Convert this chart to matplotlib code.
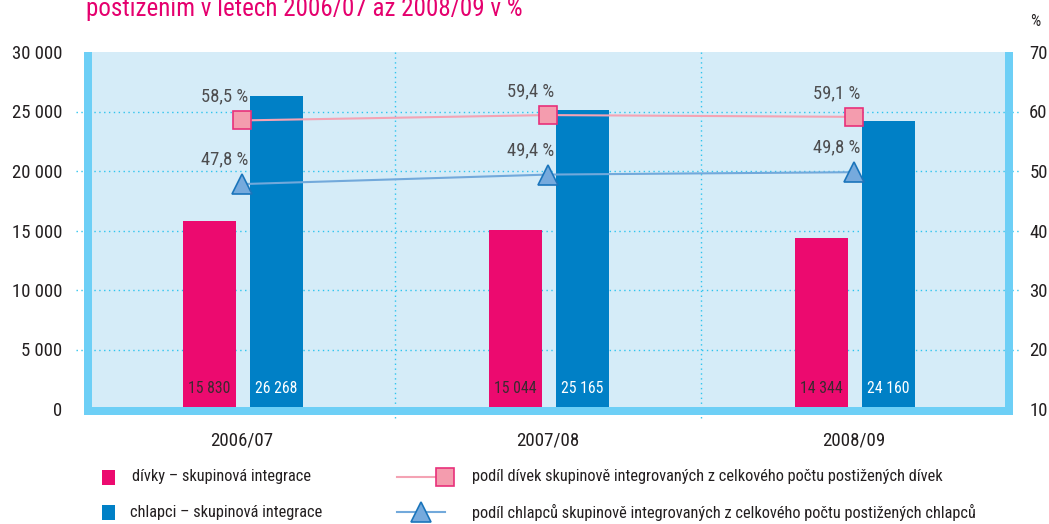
import matplotlib
matplotlib.use("Agg")
import matplotlib.pyplot as plt
import numpy as np
from matplotlib import font_manager
from matplotlib.patches import Rectangle
from matplotlib.lines import Line2D

# data
years = ["2006/07", "2007/08", "2008/09"]
girls = [15830, 15044, 14344]
boys = [26268, 25165, 24160]
girls_pct = [58.5, 59.4, 59.1]
boys_pct = [47.8, 49.4, 49.8]

left_ticks = [0, 5000, 10000, 15000, 20000, 25000, 30000]
right_ticks = [10, 20, 30, 40, 50, 60, 70]

# prefer a narrow font, the original uses a condensed one
names = {f.name for f in font_manager.fontManager.ttflist}
fam = ["DejaVu Sans"]
for cand in ["Liberation Sans Narrow", "Roboto Condensed", "Roboto"]:
    if cand in names:
        fam = [cand, "DejaVu Sans"]
        break
plt.rcParams["font.family"] = fam

pink = "#EC0A6F"
blue = "#0080C6"
frame = "#6DCFF6"
grid = "#2EC4EE"
dark = "#231F20"
W, H = 1049, 524


def fx(px):
    return px / W


def fy(py):
    return 1 - py / H


def fmt(v):
    return "{:,}".format(v).replace(",", " ")


fig = plt.figure(figsize=(10.49, 5.24), dpi=100)
renderer = fig.canvas.get_renderer()


def size_for(text, width_px, cap=14):
    # font size that makes text about width_px wide
    t = fig.text(0, 0, text, fontsize=10)
    w = t.get_window_extent(renderer).width
    t.remove()
    return min(cap, 10 * width_px / w)


ax = fig.add_axes([fx(89), fy(409), fx(1007) - fx(89), fy(52) - fy(409)])
ax.set_facecolor("#D5ECF8")
for s in ax.spines.values():
    s.set_visible(False)

x = np.arange(len(years))
w = 0.173
ax.bar(x - 0.106, girls, w, color=pink, zorder=2)
ax.bar(x + 0.113, boys, w, color=blue, zorder=2)
fs_bar = size_for("15 830", 42)
for i in range(len(years)):
    ax.text(x[i] - 0.106, 1750, fmt(girls[i]), ha="center", va="center",
            fontsize=fs_bar, color="#3A2A30", zorder=5)
    ax.text(x[i] + 0.113, 1750, fmt(boys[i]), ha="center", va="center",
            fontsize=fs_bar, color="white", zorder=5)

fs_tick = size_for("30 000", 50)
ax.set_xlim(-0.5, 2.5)
ax.set_ylim(0, 30000)
ax.set_yticks(left_ticks)
ax.set_yticklabels([fmt(v) for v in left_ticks])
ax.set_xticks(x)
ax.set_xticklabels(years)
ax.tick_params(axis="y", length=0, pad=19, labelsize=fs_tick, labelcolor=dark)
ax.tick_params(axis="x", length=0, pad=16, labelsize=size_for("2006/07", 62), labelcolor=dark)

for v in left_ticks[1:-1]:
    ax.axhline(v, color=grid, lw=1, ls=(0, (1, 2.5)), zorder=1)
for b in [0.5, 1.5]:
    ax.plot([b, b], [30000, -900], color=grid, lw=1, ls=(0, (1, 2.5)),
            zorder=1, clip_on=False)

ax2 = ax.twinx()
for s in ax2.spines.values():
    s.set_visible(False)
ax2.set_ylim(10, 70)
ax2.set_yticks(right_ticks)
ax2.tick_params(axis="y", length=0, pad=16, labelsize=fs_tick, labelcolor=dark)
ax2.plot(x, girls_pct, color="#F4A3B4", lw=1.5, marker="s", ms=12.5,
         mfc="#F49CAE", mec="#E8307A", mew=1.2, zorder=4)
ax2.plot(x, boys_pct, color="#72A9DB", lw=1.5, marker="^", ms=14,
         mfc="#76AADD", mec="#1B75BB", mew=1.2, zorder=4)
fs_pct = size_for("58,5 %", 47)
for i in range(len(years)):
    ax2.text(x[i] + 0.02, girls_pct[i] + 2.5, "{:.1f} %".format(girls_pct[i]).replace(".", ","),
             ha="right", va="bottom", fontsize=fs_pct, color="#4D4D4F")
    ax2.text(x[i] + 0.02, boys_pct[i] + 2.6, "{:.1f} %".format(boys_pct[i]).replace(".", ","),
             ha="right", va="bottom", fontsize=fs_pct, color="#4D4D4F")

# grid dots poking out at both sides
for v in left_ticks[1:-1]:
    yy = fy(409) + (fy(52) - fy(409)) * v / 30000
    fig.add_artist(Line2D([fx(76), fx(89)], [yy, yy], color=grid, lw=1, ls=(0, (1, 2.5))))
    fig.add_artist(Line2D([fx(1007), fx(1020)], [yy, yy], color=grid, lw=1, ls=(0, (1, 2.5))))

# light blue frame
for (x0, y0, x1, y1) in [(84, 52, 92, 415), (1005, 52, 1013, 415), (84, 407, 1013, 415)]:
    fig.add_artist(Rectangle((fx(x0), fy(y1)), fx(x1) - fx(x0), fy(y0) - fy(y1),
                             color=frame, lw=0, zorder=6))

# title is cut at the top edge in the original too
title = "postižením v letech 2006/07 až 2008/09 v %"
fig.text(fx(86), fy(16), title, color="#E5006E",
         fontsize=size_for(title, 432, cap=30), ha="left", va="baseline")
fig.text(fx(1035), fy(22), "%", fontsize=fs_tick * 0.85, color=dark, ha="center", va="center")

# legend
leg1 = "dívky – skupinová integrace"
leg2 = "chlapci – skupinová integrace"
leg3 = "podíl dívek skupinově integrovaných z celkového počtu postižených dívek"
leg4 = "podíl chlapců skupinově integrovaných z celkového počtu postižených chlapců"
fs_leg = min(size_for(leg1, 193), size_for(leg4, 506))
fig.add_artist(Rectangle((fx(102), fy(485)), fx(13), 15 / H, color=pink, lw=0))
fig.add_artist(Rectangle((fx(102), fy(520)), fx(13), 15 / H, color=blue, lw=0))
fig.text(fx(132), fy(477), leg1, fontsize=fs_leg, color=dark, va="center")
fig.text(fx(130), fy(512), leg2, fontsize=fs_leg, color=dark, va="center")
fig.add_artist(Line2D([fx(397), fx(445)], [fy(477), fy(477)], color="#F4A3B4", lw=1.5,
                      marker="s", markevery=[1], ms=13, mfc="#F49CAE", mec="#E8307A", mew=1.2))
fig.add_artist(Line2D([fx(397), fx(445)], [fy(512), fy(512)], color="#72A9DB", lw=1.5))
fig.add_artist(Line2D([fx(421)], [fy(512)], marker="^", ms=15,
                      mfc="#76AADD", mec="#1B75BB", mew=1.2, lw=0))
fig.text(fx(472), fy(477), leg3, fontsize=fs_leg, color=dark, va="center")
fig.text(fx(472), fy(512), leg4, fontsize=fs_leg, color=dark, va="center")

fig.savefig("out.png", dpi=100)
